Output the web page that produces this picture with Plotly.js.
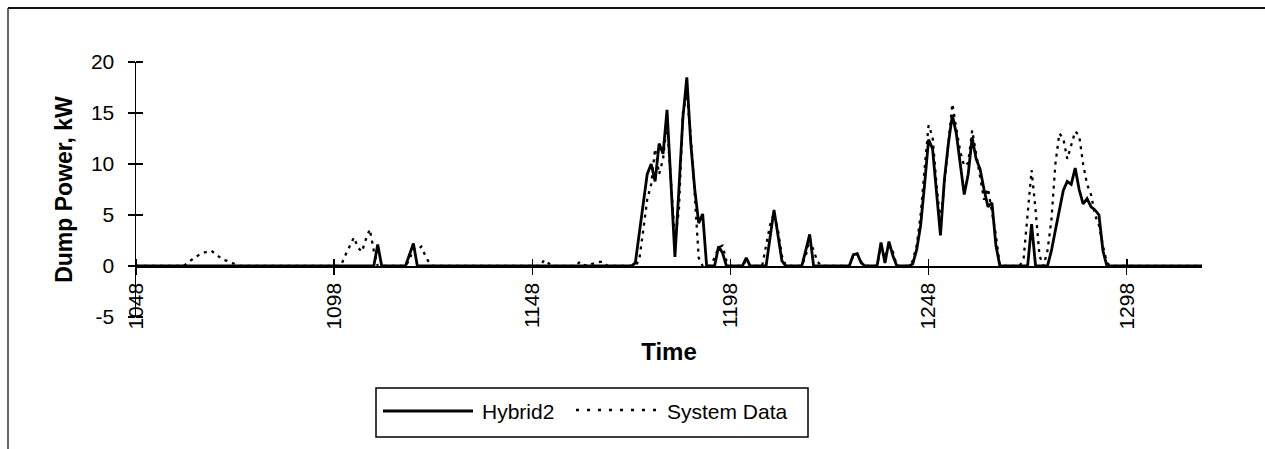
<!DOCTYPE html>
<html>
<head>
<meta charset="utf-8">
<script src="https://cdn.plot.ly/plotly-3.0.1.min.js"></script>
<style>
  html, body { margin: 0; padding: 0; background: #ffffff; }
  #chart { width: 1265px; height: 449px; }
</style>
</head>
<body>
<div id="chart"></div>
<script>
// ---- Data ----
const seriesNames = ["Hybrid2", "System Data"];

const timeHybrid = [
  1048,
  1108, 1109, 1110,
  1116, 1117, 1118, 1119,
  1173, 1174, 1175, 1176, 1177, 1178, 1179, 1180, 1181, 1182, 1183, 1184, 1185, 1186, 1187, 1188, 1189, 1190, 1191, 1192,
  1194, 1195, 1196, 1197,
  1201, 1202, 1203,
  1207, 1208, 1209, 1210, 1211, 1212,
  1216, 1217, 1218, 1219,
  1228, 1229, 1230, 1231, 1232,
  1235, 1236, 1237, 1238, 1239, 1240,
  1243, 1244, 1245, 1246, 1247, 1248, 1249, 1250, 1251, 1252, 1253, 1254, 1255, 1256, 1257, 1258, 1259, 1260, 1261, 1262, 1263, 1264, 1265, 1266,
  1273, 1274, 1275,
  1278, 1279, 1280, 1281, 1282, 1283, 1284, 1285, 1286, 1287, 1288, 1289, 1290, 1291, 1292, 1293,
  1317
];
const powerHybrid = [
  0,
  0, 2.1, 0,
  0, 1.0, 2.2, 0,
  0, 0.3, 3.2, 6.0, 9.0, 10.0, 8.3, 12.0, 11.0, 15.3, 8.0, 0.9, 7.5, 14.5, 18.5, 12.0, 7.5, 4.2, 5.1, 0,
  0, 1.9, 1.3, 0,
  0, 0.8, 0,
  0, 2.8, 5.5, 3.0, 0.5, 0,
  0, 1.5, 3.1, 0,
  0, 1.1, 1.2, 0.3, 0,
  0, 2.3, 0.3, 2.4, 1.0, 0,
  0, 0.2, 1.6, 4.0, 8.0, 12.4, 11.5, 7.0, 3.0, 8.5, 12.0, 14.8, 13.0, 10.0, 7.0, 9.0, 12.6, 10.5, 9.5, 7.5, 5.8, 6.2, 2.0, 0,
  0, 4.1, 0,
  0, 1.5, 3.5, 5.5, 7.4, 8.3, 8.0, 9.6, 7.5, 6.1, 6.6, 5.8, 5.5, 5.0, 1.5, 0,
  0
];

const timeSystem = [
  1048,
  1060, 1061, 1062, 1063, 1064, 1065, 1066, 1067, 1068, 1069, 1070, 1071, 1072, 1073, 1074,
  1099, 1100, 1101, 1102, 1103, 1104, 1105, 1106, 1107, 1108, 1109,
  1116, 1117, 1118, 1119, 1120, 1121, 1122, 1123,
  1150, 1151, 1152, 1153,
  1159, 1160, 1161, 1162, 1163, 1164, 1165, 1166, 1167,
  1174, 1175, 1176, 1177, 1178, 1179, 1180, 1181, 1182, 1183, 1184, 1185, 1186, 1187, 1188, 1189, 1190, 1191,
  1193, 1194, 1195, 1196, 1197, 1198,
  1201, 1202, 1203,
  1206, 1207, 1208, 1209, 1210, 1211, 1212,
  1216, 1217, 1218, 1219, 1220, 1221,
  1228, 1229, 1230, 1231, 1232,
  1235, 1236, 1237, 1238, 1239, 1240,
  1243, 1244, 1245, 1246, 1247, 1248, 1249, 1250, 1251, 1252, 1253, 1254, 1255, 1256, 1257, 1258, 1259, 1260, 1261, 1262, 1263, 1264, 1265, 1266,
  1271, 1272, 1273, 1274, 1275, 1276, 1277,
  1278, 1279, 1280, 1281, 1282, 1283, 1284, 1285, 1286, 1287, 1288, 1289, 1290, 1291, 1292, 1293, 1294,
  1317
];
const powerSystem = [
  0,
  0, 0.3, 0.6, 0.9, 1.1, 1.3, 1.4, 1.5, 1.2, 0.9, 0.6, 0.5, 0.3, 0.2, 0,
  0, 0.3, 1.2, 2.0, 2.8, 1.8, 1.4, 2.6, 3.6, 1.5, 0,
  0, 0.6, 1.7, 1.6, 1.9, 1.0, 0.3, 0,
  0, 0.6, 0.3, 0,
  0, 0.4, 0.1, 0, 0.2, 0.3, 0.4, 0.4, 0,
  0, 0.6, 3.5, 6.5, 8.0, 11.5, 9.0, 10.5, 14.0, 8.0, 2.5, 5.5, 15.0, 16.9, 12.7, 7.0, 0.8, 0,
  0, 0.8, 1.8, 2.0, 0.5, 0,
  0, 0.6, 0,
  0, 2.0, 4.0, 5.2, 3.5, 1.0, 0,
  0, 1.0, 2.6, 1.5, 0.4, 0,
  0, 1.0, 1.2, 0.4, 0,
  0, 2.0, 0.8, 2.0, 1.4, 0,
  0, 0.5, 2.0, 5.0, 9.5, 13.8, 12.7, 8.0, 4.2, 8.0, 12.5, 15.9, 13.5, 11.2, 9.8, 10.1, 13.3, 11.0, 8.5, 6.5, 7.6, 5.5, 3.0, 0,
  0, 0.8, 5.5, 9.4, 5.5, 1.0, 0,
  1.5, 4.5, 10.0, 13.0, 12.5, 10.5, 11.8, 13.2, 12.8, 10.0, 8.0, 7.0, 5.0, 4.0, 2.0, 0.3, 0,
  0
];

const xTickVals = [1048, 1098, 1148, 1198, 1248, 1298];
const xTickText = ["1048", "1098", "1148", "1198", "1248", "1298"];
const yTickVals = [-5, 0, 5, 10, 15, 20];
const yTickText = ["-5", "0", "5", "10", "15", "20"];
const xTitle = "Time";
const yTitle = "Dump Power, kW";

// ---- Styling / layout ----
const FONT = 'Arial, "Liberation Sans", sans-serif';
const systemDash = "3px,5px";

const traces = [
  {
    x: timeSystem, y: powerSystem, name: seriesNames[1],
    type: "scatter", mode: "lines",
    line: { color: "#000000", width: 2.3, dash: systemDash },
    showlegend: false
  },
  {
    x: timeHybrid, y: powerHybrid, name: seriesNames[0],
    type: "scatter", mode: "lines",
    line: { color: "#000000", width: 2.8 },
    showlegend: false
  }
];

// Plot-area pixel box (1265 x 449 page)
const L = 136, R = 1202, T = 62, B = 317;
const W = 1265, H = 449;
const px = v => (v - L) / (R - L);
const py = v => (B - v) / (B - T);

// Minor ticks slightly offset from majors so ticks cross the axes (Excel style)
const xMinor = xTickVals.map(v => v + 0.01);
const yMinor = yTickVals.map(v => (v === 20 ? v - 0.01 : v + 0.01));

const layout = {
  width: W, height: H,
  margin: { l: L, r: W - R, t: T, b: H - B, pad: 0 },
  paper_bgcolor: "#ffffff",
  plot_bgcolor: "#ffffff",
  font: { family: FONT, color: "#000000", size: 21 },
  showlegend: false,
  xaxis: {
    range: [1048, 1317],
    anchor: "free", position: 0.2,
    showgrid: false, zeroline: false,
    showline: true, linecolor: "#000000", linewidth: 1.5,
    tickmode: "array", tickvals: xTickVals, ticktext: xTickText,
    ticks: "outside", ticklen: 7, tickwidth: 1.5, tickcolor: "#000000",
    minor: { tickmode: "array", tickvals: xMinor, ticks: "inside", ticklen: 7, tickwidth: 1.5, tickcolor: "#000000", showgrid: false },
    tickangle: -90,
    ticklabelstandoff: 0,
    tickfont: { family: FONT, size: 21, color: "#000000" },
    title: { text: xTitle, font: { family: FONT, size: 24, weight: "bold", color: "#000000" }, standoff: 14 }
  },
  yaxis: {
    range: [-5, 20],
    showgrid: false, zeroline: false,
    showline: true, linecolor: "#000000", linewidth: 1.5,
    tickmode: "array", tickvals: yTickVals, ticktext: yTickText,
    ticks: "outside", ticklen: 7, tickwidth: 1.5, tickcolor: "#000000",
    minor: { tickmode: "array", tickvals: yMinor, ticks: "inside", ticklen: 7, tickwidth: 1.5, tickcolor: "#000000", showgrid: false },
    ticklabelstandoff: 9,
    tickfont: { family: FONT, size: 21, color: "#000000" },
    title: { text: yTitle, font: { family: FONT, size: 23, weight: "bold", color: "#000000" }, standoff: 12 }
  },
  shapes: [
    // outer chart frame (top and left edges visible in the reference)
    { type: "line", xref: "paper", yref: "paper", x0: px(8), x1: px(1265), y0: py(8), y1: py(8),
      line: { color: "#111111", width: 2 } },
    { type: "line", xref: "paper", yref: "paper", x0: px(8), x1: px(8), y0: py(8), y1: py(449),
      line: { color: "#333333", width: 1.5 } },
    // legend box
    { type: "rect", xref: "paper", yref: "paper", x0: px(376), x1: px(808), y0: py(388), y1: py(437),
      line: { color: "#000000", width: 1.5 }, fillcolor: "rgba(0,0,0,0)" },
    // legend samples
    { type: "line", xref: "paper", yref: "paper", x0: px(383), x1: px(473), y0: py(411), y1: py(411),
      line: { color: "#000000", width: 2.8 } },
    { type: "line", xref: "paper", yref: "paper", x0: px(576), x1: px(658), y0: py(410), y1: py(410),
      line: { color: "#000000", width: 2.3, dash: "3px,8px" } }
  ],
  annotations: [
    { xref: "paper", yref: "paper", x: px(480), y: py(411), xanchor: "left", yanchor: "middle",
      text: seriesNames[0], showarrow: false, font: { family: FONT, size: 21, color: "#000000" } },
    { xref: "paper", yref: "paper", x: px(665), y: py(411), xanchor: "left", yanchor: "middle",
      text: seriesNames[1], showarrow: false, font: { family: FONT, size: 21, color: "#000000" } }
  ]
};

Plotly.newPlot("chart", traces, layout, { staticPlot: true, displayModeBar: false });
</script>
</body>
</html>
